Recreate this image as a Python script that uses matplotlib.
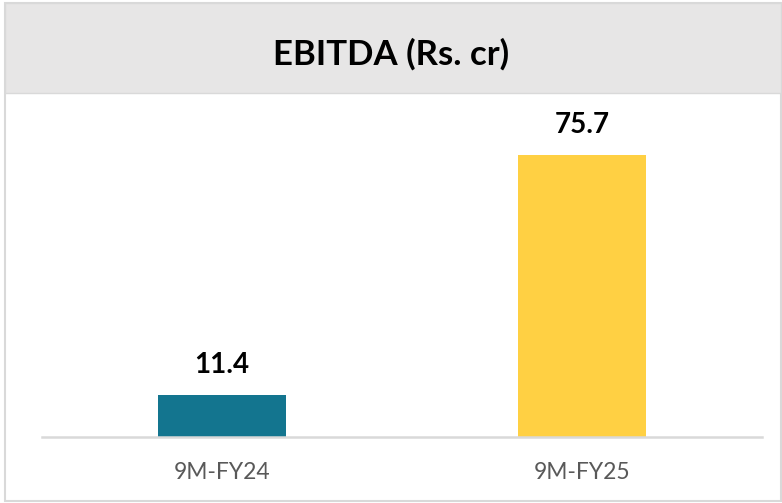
import matplotlib
matplotlib.use("Agg")
import matplotlib.pyplot as plt
from matplotlib.patches import Rectangle

categories = ["9M-FY24", "9M-FY25"]
values = [11.4, 75.7]
value_labels = ["11.4", "75.7"]
colors = ["#13758F", "#FFD043"]
title = "EBITDA (Rs. cr)"

W, H = 782, 503
fig = plt.figure(figsize=(W / 100, H / 100), dpi=100)
plt.rcParams['font.family'] = ['Lato', 'DejaVu Sans']

def fx(px):
    return px / W

def fy(py):
    return 1 - py / H

# outer border
fig.patches.append(Rectangle((fx(5), fy(501)), (781 - 5) / W, (501 - 3) / H,
                             transform=fig.transFigure, facecolor="white",
                             edgecolor="#D9D9D9", linewidth=1.5, zorder=0))
# title band
fig.patches.append(Rectangle((fx(5), fy(93)), (781 - 5) / W, (93 - 3) / H,
                             transform=fig.transFigure, facecolor="#E7E6E6",
                             edgecolor="#D9D9D9", linewidth=1.0, zorder=1))
fig.text(0.5, fy(54), title, ha="center", va="center", fontsize=25,
         fontweight="bold", color="black", zorder=3)

ax = fig.add_axes([fx(42), fy(437), (762 - 42) / W, (437 - 95) / H])
ax.set_zorder(5)
ax.set_facecolor("none")
x = range(len(categories))
bars = ax.bar(x, values, width=0.353, color=colors, zorder=2)
ax.set_xlim(-0.5, 1.5)
ax.set_ylim(0, 91.8)
for b, lab in zip(bars, value_labels):
    ax.annotate(lab, (b.get_x() + b.get_width() / 2, b.get_height()),
                xytext=(0, 12), textcoords="offset points", ha="center", va="bottom",
                fontsize=20, fontweight="bold", color="black")
for s in ["top", "right", "left"]:
    ax.spines[s].set_visible(False)
ax.spines["bottom"].set_color("#D9D9D9")
ax.spines["bottom"].set_linewidth(1.8)
ax.set_yticks([])
ax.set_xticks(list(x))
ax.set_xticklabels(categories, fontsize=16.5, color="#595959")
ax.tick_params(axis="x", length=0, pad=18)

fig.savefig("out.png", dpi=100)
